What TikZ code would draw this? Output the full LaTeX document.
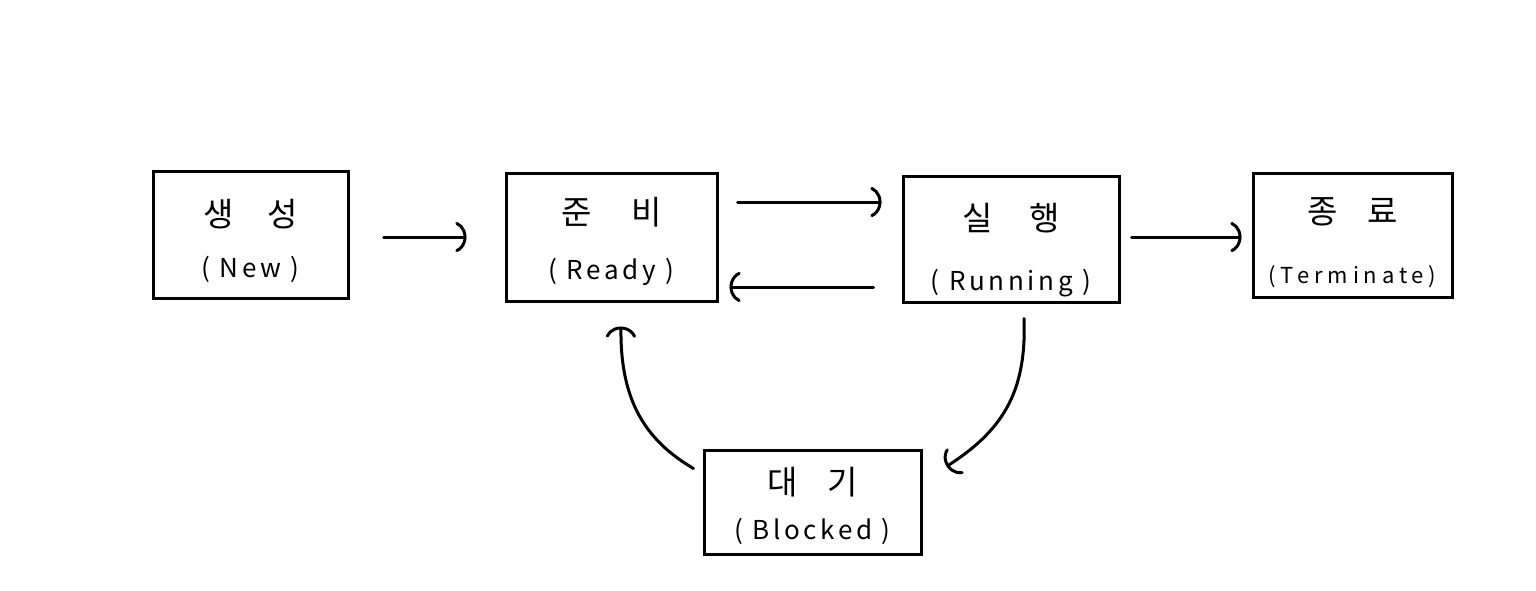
\documentclass[tikz,border=0pt]{standalone}
\usepackage{fontspec}
\setmainfont{Noto Sans CJK KR}
\usetikzlibrary{arrows.meta,calc}
\tikzset{
  box/.style={draw, line width=3pt, rectangle, inner sep=0pt},
  kr/.style={font=\fontsize{33}{36}\selectfont, inner sep=0pt},
  lat/.style={font=\fontsize{26}{30}\selectfont\addfontfeatures{LetterSpace=14}, inner sep=0pt},
  arr/.style={line width=3pt, line cap=round, -{Arc Barb[arc=140,length=14pt,width=32pt,line width=3pt,line cap=round]}},
}
\begin{document}
\begin{tikzpicture}[x=1pt,y=-1pt]
\useasboundingbox (0,0) rectangle (1536,590);
% boxes
\node[box, minimum width=195pt, minimum height=127pt] (new) at (250.5,234.5) {};
\node[box, minimum width=211pt, minimum height=128pt] (ready) at (611.5,237) {};
\node[box, minimum width=216pt, minimum height=126pt] (run) at (1011,239) {};
\node[box, minimum width=199pt, minimum height=124pt] (term) at (1352.5,235) {};
\node[box, minimum width=217pt, minimum height=104pt] (blk) at (812.5,502) {};
% labels
\node[kr] (newk) at ([yshift=20pt]new.center) {생\hspace{1em}성};
\node[lat] (newl) at ([yshift=-35pt]new.center) {( New )};
\node[kr] (readyk) at ([yshift=25pt]ready.center) {준\hspace{1.2em}비};
\node[lat] (readyl) at ([yshift=-35pt]ready.center) {( Ready )};
\node[kr] (runk) at ([yshift=21pt]run.center) {실\hspace{1.1em}행};
\node[lat] (runl) at ([yshift=-44pt]run.center) {( Running )};
\node[kr] (termk) at ([yshift=23pt]term.center) {종\hspace{0.9em}료};
\node[lat, font=\fontsize{22}{26}\selectfont\addfontfeatures{LetterSpace=22}] (terml) at ([yshift=-42pt]term.center) {(Terminate)};
\node[kr] (blkk) at ([yshift=20pt]blk.center) {대\hspace{0.9em}기};
\node[lat] (blkl) at ([yshift=-29pt]blk.center) {( Blocked )};
% connectors
\draw[arr, shorten <=34pt, shorten >=38pt] ([yshift=-2.5pt]new.east) -- (ready.west);
\draw[arr, shorten <=19pt, shorten >=20pt] ([yshift=35pt]ready.east) -- ([yshift=37pt]run.west);
\draw[arr, shorten <=28pt, shorten >=11pt] ([yshift=-48pt]run.west) -- ([yshift=-50pt]ready.east);
\draw[arr, shorten <=11pt, shorten >=10pt] ([yshift=2pt]run.east) -- ([yshift=-2pt]term.west);
\coordinate (c1) at ([xshift=13pt,yshift=-15pt]run.south);
\coordinate (c2) at ([xshift=24pt,yshift=-18pt]blk.north east);
\draw[arr] (c1) .. controls (1027,395) and (1000,432) .. (c2);
\coordinate (c3) at ([xshift=-9pt,yshift=-20pt]blk.north west);
\coordinate (c4) at ([xshift=9.5pt,yshift=-24pt]ready.south);
\draw[arr] (c3) .. controls (645,440) and (620,400) .. (c4);
\end{tikzpicture}
\end{document}
